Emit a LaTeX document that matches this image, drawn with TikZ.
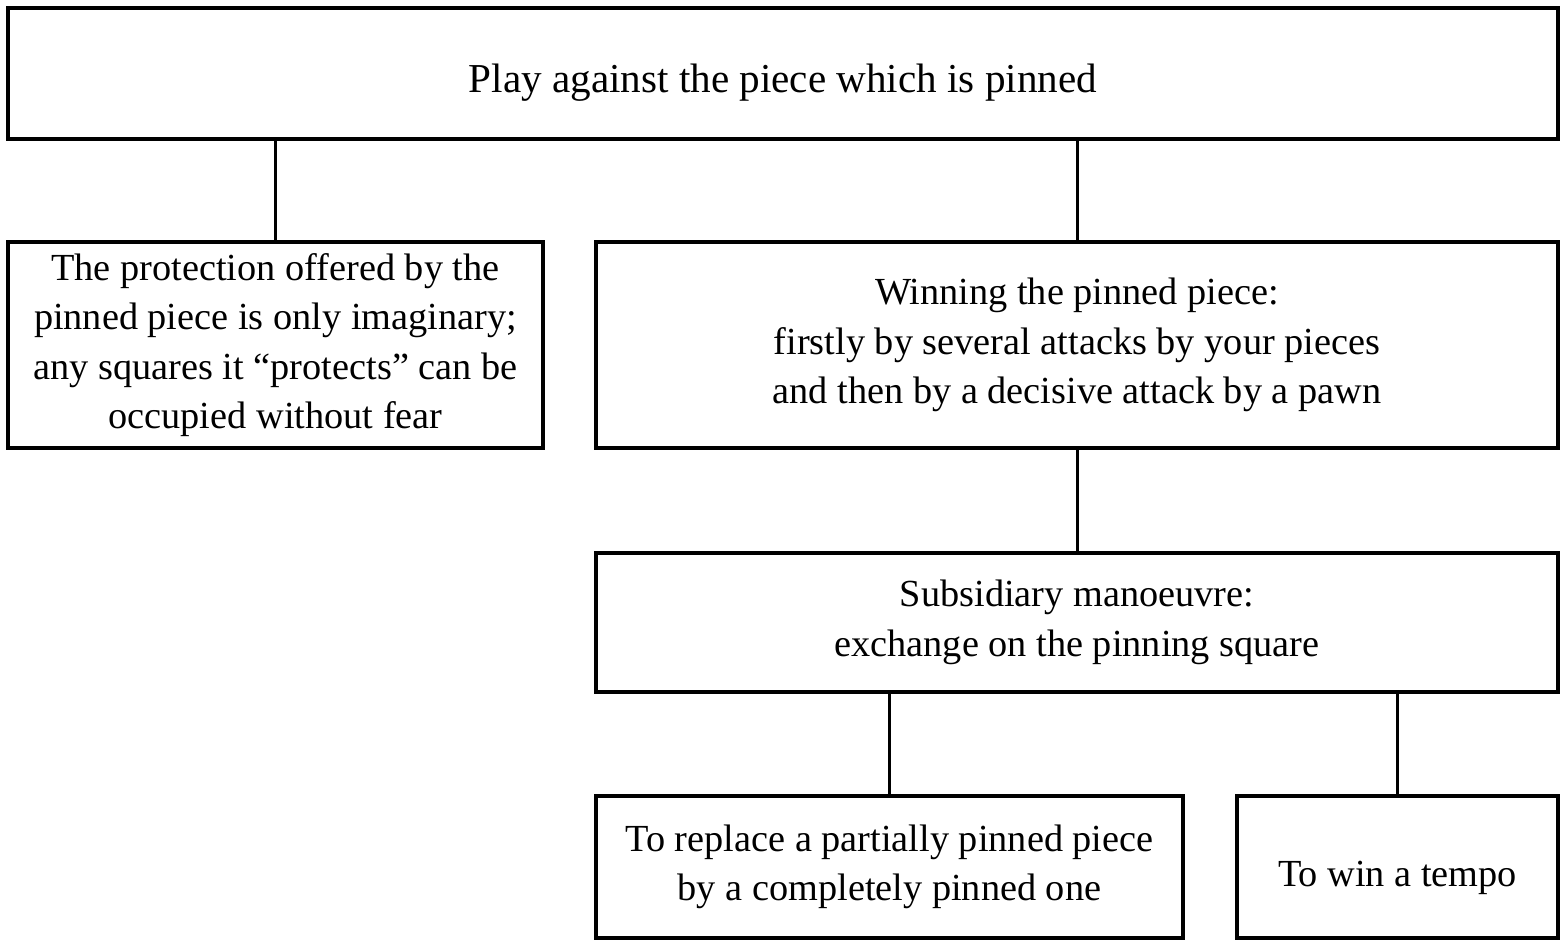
\documentclass[tikz,border=0pt]{standalone}
\usepackage{fontspec}
\setmainfont{Liberation Serif}
\usepackage{tikz}
\usetikzlibrary{arrows,positioning,calc}

\begin{document}
\begin{tikzpicture}[every node/.style={font=\fontsize{21.8}{28.2}\selectfont},
                    box/.style={draw, line width=2.2pt, align=center, inner sep=0pt,
                                execute at begin node={\rule{0pt}{0.95cm}}},
                    link/.style={line width=1.7pt}]
                \useasboundingbox (0,0) rectangle (31.32,18.82);
                \node[box, font=\fontsize{23.4}{28.2}\selectfont, minimum width=31.0cm, minimum height=2.62cm] (play) at (15.66,17.35) {Play against the piece which is pinned};
                \node[box, minimum width=10.7cm, minimum height=4.12cm] (imag) at (5.51,11.92) {The protection offered by the\\pinned piece is only imaginary;\\any squares it ``protects'' can be\\occupied without fear};
                \node[box, minimum width=19.24cm, minimum height=4.12cm] (win) at (21.54,11.92) {Winning the pinned piece:\\firstly by several attacks by your pieces\\and then by a decisive attack by a pawn};
                \node[box, minimum width=19.24cm, minimum height=2.78cm] (sub) at (21.54,6.37) {Subsidiary manoeuvre:\\exchange on the pinning square};
                \node[box, minimum width=11.74cm, minimum height=2.84cm] (repl) at (17.79,1.48) {To replace a partially pinned piece\\by a completely pinned one};
                \node[box, minimum width=6.42cm, minimum height=2.84cm] (tempo) at (27.95,1.48) {To win a tempo};
                % vertical links
                \draw[link] (imag.north) -- (imag.north |- play.south);
                \draw[link] (win.north) -- (win.north |- play.south);
                \draw[link] (sub.north) -- (win.south);
                \draw[link] (repl.north) -- (repl.north |- sub.south);
                \draw[link] (tempo.north) -- (tempo.north |- sub.south);
            \end{tikzpicture}
\end{document}
